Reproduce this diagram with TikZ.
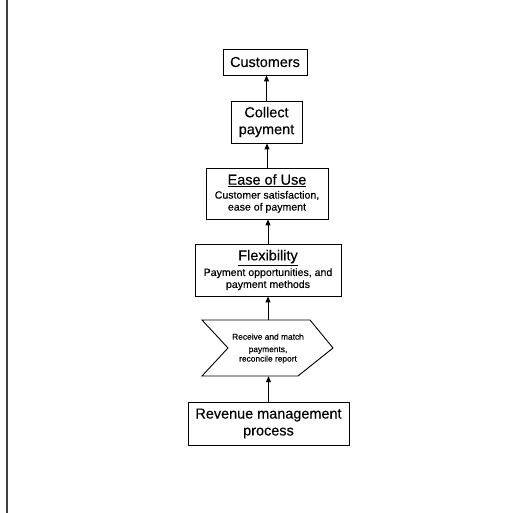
\documentclass[tikz,border=0pt]{standalone}
\usepackage{fontspec}
\setmainfont{Liberation Sans}[FakeBold=0.35]
\usetikzlibrary{arrows.meta}
\begin{document}
\begin{tikzpicture}[x=1bp,y=-1bp,
  box/.style={draw=black,line width=0.9pt,align=center,inner sep=1pt},
  big/.style={font=\fontsize{14.5}{17}\selectfont},
  conn/.style={draw=black,line width=1pt,-{Triangle[length=6pt,width=5pt]}}]
\useasboundingbox (0,0) rectangle (510,513);
\draw[line width=1.5pt,black!75] (7,0) -- (7,513);
\node[box,big,minimum width=84bp,minimum height=26bp] (cust) at (265,62) {Customers};
\node[box,big,minimum width=71bp,minimum height=42bp] (coll) at (266.5,122) {Collect\\payment};
\node[box,minimum width=122bp,minimum height=51bp] (ease) at (267,193.5)
  {{\fontsize{14.5}{15}\selectfont\underline{Ease of Use}}\\[2pt]{\fontsize{10.6}{13}\selectfont Customer satisfaction,}\\{\fontsize{10.6}{13}\selectfont ease of payment}};
\node[box,minimum width=146bp,minimum height=52bp] (flex) at (268,270)
  {{\fontsize{14.5}{15}\selectfont\underline{Flexibility}}\\[2pt]{\fontsize{10.6}{13}\selectfont Payment opportunities, and}\\{\fontsize{10.6}{13}\selectfont payment methods}};
\draw[line width=0.9pt] (202,320) -- (310,320) -- (333,348) -- (298,376) -- (202,376) -- (228,348) -- cycle;
\node[align=center,inner sep=0pt,minimum height=56bp,font=\fontsize{8.4}{9.5}\selectfont] (recv) at (268,348)
  {\rule{0pt}{7pt}Receive and match\\[3pt]payments,\\reconcile report};
\node[box,big,minimum width=161bp,minimum height=43bp] (rev) at (268.5,423.5) {Revenue management\\process};
\draw[conn] (rev.north) -- (rev.north |- recv.south);
\draw[conn] (recv.north) -- (recv.north |- flex.south);
\draw[conn] (flex.north) -- (flex.north |- ease.south);
\draw[conn] (ease.north) -- (ease.north |- coll.south);
\draw[conn] (coll.north) -- (coll.north |- cust.south);
\end{tikzpicture}
\end{document}
